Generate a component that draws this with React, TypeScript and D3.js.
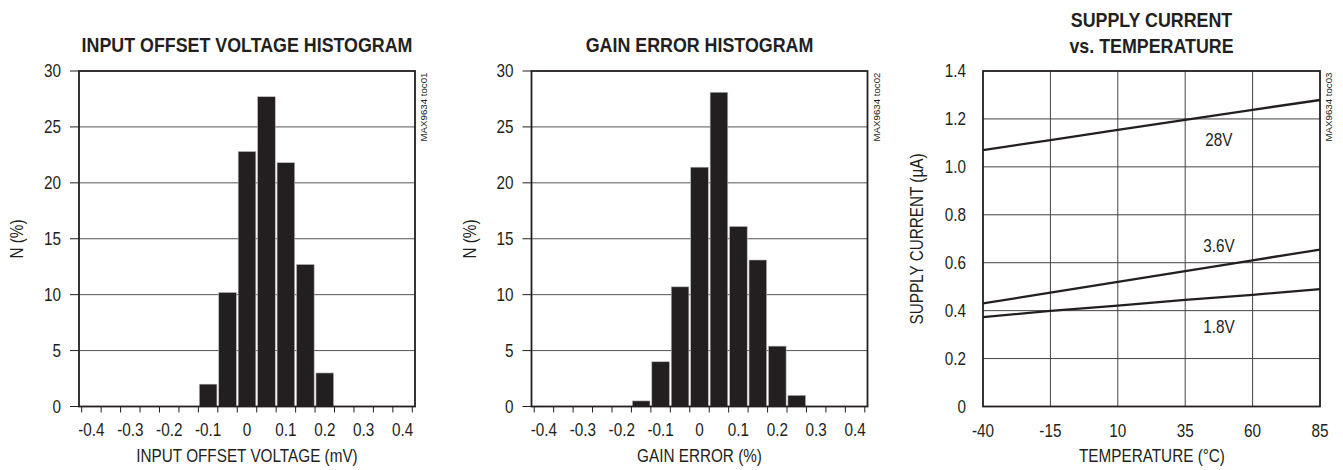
import * as d3 from 'd3';

// histogram data (bin centre, % of units)
const offsetBins = [-0.1, -0.05, 0, 0.05, 0.1, 0.15, 0.2];
const offsetPct = [2, 10.2, 22.8, 27.7, 21.8, 12.7, 3];
const gainBins = [-0.15, -0.1, -0.05, 0, 0.05, 0.1, 0.15, 0.2, 0.25];
const gainPct = [0.5, 4, 10.7, 21.4, 28.1, 16.1, 13.1, 5.4, 1];

const histXLabels = ['-0.4', '-0.3', '-0.2', '-0.1', '0', '0.1', '0.2', '0.3', '0.4'];
const histEdges = [-0.425, -0.375, -0.325, -0.275, -0.225, -0.175, -0.125, -0.075, -0.025,
  0.025, 0.075, 0.125, 0.175, 0.225, 0.275, 0.325, 0.375, 0.425];
const histYTicks = [0, 5, 10, 15, 20, 25, 30];

// supply current vs temperature
const temps = [-40, -15, 10, 35, 60, 85];
const i28V = [1.07, 1.112, 1.154, 1.196, 1.238, 1.279];
const i36V = [0.43, 0.475, 0.52, 0.565, 0.61, 0.655];
const i18V = [0.373, 0.399, 0.421, 0.445, 0.466, 0.49];
const currTicks = [0, 0.2, 0.4, 0.6, 0.8, 1.0, 1.2, 1.4];
const currLabels = ['0', '0.2', '0.4', '0.6', '0.8', '1.0', '1.2', '1.4'];
const seriesNames = ['28V', '3.6V', '1.8V'];
const seriesLabelAt = [1.115, 0.67, 0.335];

const INK = '#231f20';
const FONT = '"Liberation Sans", Arial, sans-serif';
const SX = 0.85; // the original type is a narrow face

const TOP = 71;
const BOTTOM = 406.5;

// condensed text: squeeze horizontally around its anchor
function T({ x, y, rot = 0, size = 18, anchor = 'middle', bold = false, dy = undefined, sx = SX, children }) {
  return (
    <text transform={`translate(${x},${y}) rotate(${rot}) scale(${sx},1)`} dy={dy} textAnchor={anchor}
      fontSize={size} fontWeight={bold ? 'bold' : 'normal'} fill={INK}>{children}</text>
  );
}

function Histogram({ left, title, xTitle, bins, pct, tag }) {
  const right = left + 336;
  const x = d3.scaleLinear().domain([-0.425, 0.425]).range([left + 2.7, right - 2.7]);
  const y = d3.scaleLinear().domain([0, 30]).range([BOTTOM, TOP]);
  const bw = x(0.05) - x(0);
  const cx = (left + right) / 2;
  return (
    <g>
      <T x={cx} y={52} size={21} bold>{title}</T>
      {histYTicks.slice(1, -1).map(t => (
        <line key={t} x1={left} x2={right} y1={y(t)} y2={y(t)} stroke="#555" strokeWidth={1} />
      ))}
      {bins.map((b, i) => (
        <rect key={b} x={x(b) - bw / 2 + 0.9} width={bw - 1.8} y={y(pct[i])} height={y(0) - y(pct[i])}
          fill={INK} stroke="#bbb" strokeWidth={0.6} />
      ))}
      <rect x={left} y={TOP} width={right - left} height={BOTTOM - TOP} fill="none" stroke={INK} strokeWidth={1.8} />
      {histYTicks.map(t => (
        <g key={t}>
          <line x1={left - 9} x2={left} y1={y(t)} y2={y(t)} stroke={INK} strokeWidth={1} />
          <T x={left - 18} y={y(t)} dy="0.35em" anchor="end">{t}</T>
        </g>
      ))}
      {histEdges.map(t => (
        <line key={t} x1={x(t)} x2={x(t)} y1={BOTTOM} y2={BOTTOM + 6} stroke={INK} strokeWidth={1} />
      ))}
      {histXLabels.map(t => (
        <T key={t} x={x(+t)} y={436}>{t}</T>
      ))}
      <T x={cx} y={462}>{xTitle}</T>
      <T x={left - 56} y={239} rot={-90}>N (%)</T>
      <T x={right + 12} y={107} rot={-90} size={9.7} sx={1}>{tag}</T>
    </g>
  );
}

function SupplyChart() {
  const left = 983;
  const right = 1320;
  const x = d3.scaleLinear().domain([-40, 85]).range([left, right]);
  const y = d3.scaleLinear().domain([0, 1.4]).range([BOTTOM, TOP]);
  const line = d3.line<number>().x((_, i) => x(temps[i])).y(d => y(d));
  const cx = (left + right) / 2;
  return (
    <g>
      <T x={cx} y={26.5} size={21} bold>SUPPLY CURRENT</T>
      <T x={cx} y={52.5} size={21} bold>vs. TEMPERATURE</T>
      {currTicks.slice(1, -1).map(t => (
        <line key={t} x1={left} x2={right} y1={y(t)} y2={y(t)} stroke="#444" strokeWidth={1} />
      ))}
      {temps.slice(1, -1).map(t => (
        <line key={t} x1={x(t)} x2={x(t)} y1={TOP} y2={BOTTOM} stroke="#444" strokeWidth={1} />
      ))}
      {[i28V, i36V, i18V].map((s, k) => (
        <path key={k} d={line(s) || ''} fill="none" stroke={INK} strokeWidth={2.3} />
      ))}
      {seriesNames.map((n, i) => (
        <T key={n} x={x(47.5)} y={y(seriesLabelAt[i])} dy="0.35em">{n}</T>
      ))}
      <rect x={left} y={TOP} width={right - left} height={BOTTOM - TOP} fill="none" stroke={INK} strokeWidth={1.8} />
      {currTicks.map((t, i) => (
        <T key={t} x={966} y={y(t)} dy="0.35em" anchor="end">{currLabels[i]}</T>
      ))}
      {temps.map(t => (
        <T key={t} x={x(t)} y={436.5}>{t}</T>
      ))}
      <T x={1152} y={462}>TEMPERATURE (°C)</T>
      <T x={923} y={239} rot={-90}>SUPPLY CURRENT (µA)</T>
      <T x={right + 12} y={107} rot={-90} size={9.7} sx={1}>MAX9634 toc03</T>
    </g>
  );
}

export default function App() {
  return (
    <svg width={1343} height={470} style={{ position: 'absolute', left: 0, top: 0, background: '#fff' }}
      fontFamily={FONT}>
      <Histogram left={79} title="INPUT OFFSET VOLTAGE HISTOGRAM" xTitle="INPUT OFFSET VOLTAGE (mV)"
        bins={offsetBins} pct={offsetPct} tag="MAX9634 toc01" />
      <Histogram left={531.5} title="GAIN ERROR HISTOGRAM" xTitle="GAIN ERROR (%)"
        bins={gainBins} pct={gainPct} tag="MAX9634 toc02" />
      <SupplyChart />
    </svg>
  );
}
